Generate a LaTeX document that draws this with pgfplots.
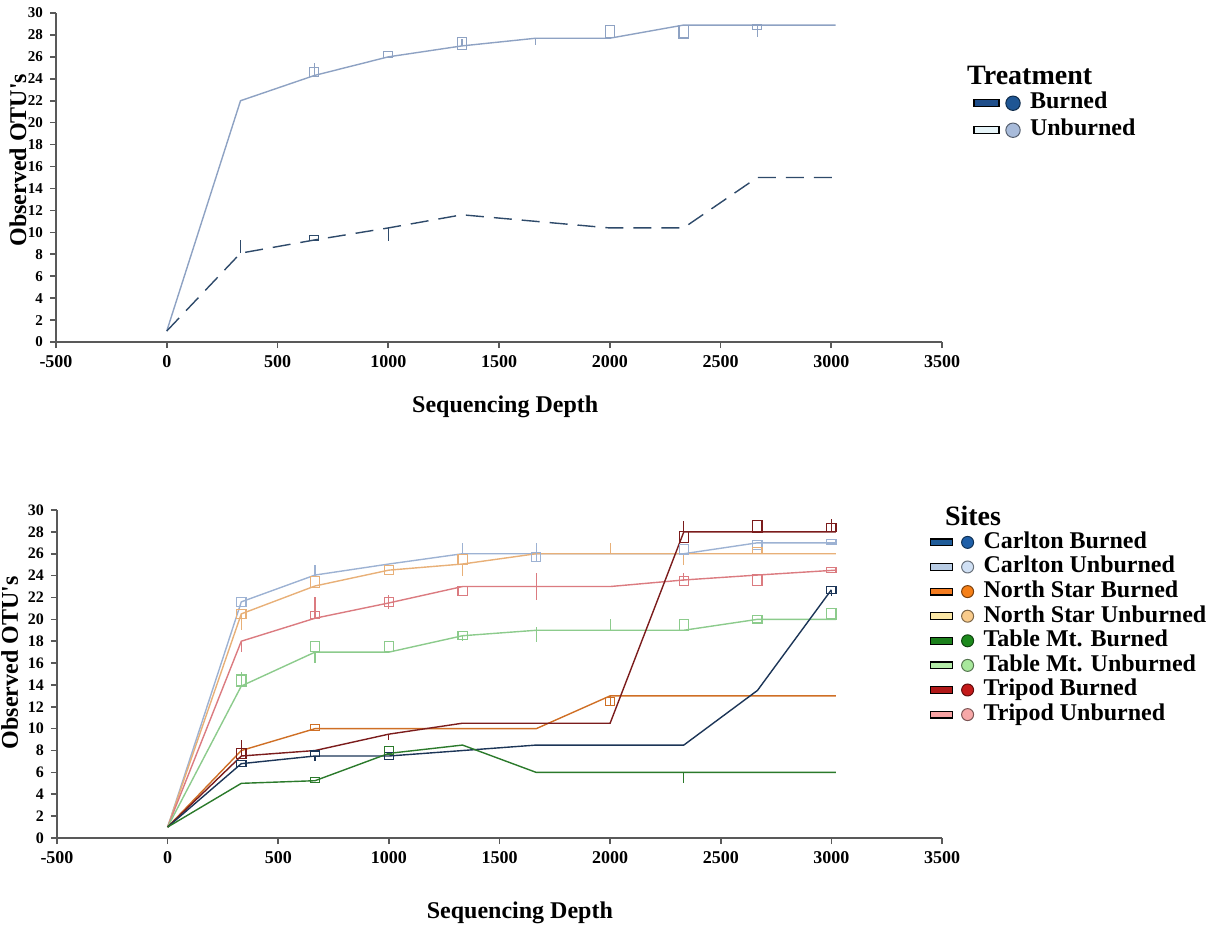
\documentclass[border=0pt]{standalone}
\usepackage{pgfplots}
\pgfplotsset{compat=1.18}
\usepackage{fontspec}
\setmainfont{Liberation Serif}

\definecolor{topB}{HTML}{2E4A6A}
\definecolor{topBbar}{HTML}{1F4E8A}
\definecolor{topBcir}{HTML}{1F5694}
\definecolor{topU}{HTML}{8EA2C3}
\definecolor{topUbar}{HTML}{E6F4F8}
\definecolor{topUcir}{HTML}{A8BBDA}

\definecolor{CBl}{HTML}{1C3557}\definecolor{CBb}{HTML}{1F5C99}\definecolor{CBc}{HTML}{1F5FA8}
\definecolor{CUl}{HTML}{9DB2D3}\definecolor{CUb}{HTML}{B8CCE4}\definecolor{CUc}{HTML}{D0E0F4}
\definecolor{NBl}{HTML}{CF6F25}\definecolor{NBb}{HTML}{F47C20}\definecolor{NBc}{HTML}{F57F17}
\definecolor{NUl}{HTML}{E8B078}\definecolor{NUb}{HTML}{FBE7A6}\definecolor{NUc}{HTML}{F9CB8B}
\definecolor{TBl}{HTML}{2B7A2B}\definecolor{TBb}{HTML}{1B7F1B}\definecolor{TBc}{HTML}{1D8A1D}
\definecolor{TUl}{HTML}{8CCB8C}\definecolor{TUb}{HTML}{B5ECA9}\definecolor{TUc}{HTML}{A8E89C}
\definecolor{PBl}{HTML}{7B1C1C}\definecolor{PBb}{HTML}{B01818}\definecolor{PBc}{HTML}{C41A1A}
\definecolor{PUl}{HTML}{DB7B80}\definecolor{PUb}{HTML}{F7A3A3}\definecolor{PUc}{HTML}{F7A8A8}

\pgfplotsset{
  base/.style={
    scale only axis, width=443pt, height=164.5pt,
    xmin=-500, xmax=3500, ymin=0, ymax=30,
    axis lines=left, axis line style={-, draw=black!65, line width=0.9pt},
    tick align=outside, major tick length=3pt,
    tick style={draw=black!65, line width=0.8pt},
    xtick={-500,0,500,1000,1500,2000,2500,3000,3500},
    xticklabels={-500,0,500,1000,1500,2000,2500,3000,3500},
    ytick={0,2,...,30},
    /pgf/number format/assume math mode=true,
    xticklabel style={font=\bfseries\fontsize{9}{10}\selectfont},
    yticklabel style={font=\bfseries\fontsize{7.5}{8}\selectfont},
    label style={font=\bfseries\fontsize{12}{14}\selectfont},
    clip=false,
    legend cell align=left,
  },
  ln/.style={color=#1, line width=0.7pt, mark=none},
  sq/.style={scatter, only marks, mark=square, mark size=2.3pt, point meta=y,
    scatter/use mapped color={draw=#1, fill=none},
    mark options={line width=0.6pt},
    visualization depends on={\thisrow{h} \as \hh},
    scatter/@pre marker code/.append style={/tikz/yscale=\hh}},
  eb/.style={draw=none, mark=none,
    error bars/y dir=both, error bars/y explicit, error bars/error mark=none,
    error bars/error bar style={line width=0.6pt, draw=#1}},
  limg/.style n args={2}{legend image code/.code={
    \draw[fill=#1, draw=black, line width=0.6pt] (0pt,-1.7pt) rectangle (11pt,1.7pt);
    \draw[fill=#2, draw=#2!50!black, line width=0.5pt] (18.5pt,0pt) circle (3pt);
    \path[draw=none, fill=none] (0pt,0pt) -- (26pt,0pt);}},
  limgT/.style n args={2}{legend image code/.code={
    \draw[fill=#1, draw=black, line width=0.6pt] (0pt,-1.8pt) rectangle (12.5pt,1.8pt);
    \draw[fill=#2, draw=#2!50!black, line width=0.5pt] (19.5pt,0pt) circle (3.6pt);
    \path[draw=none, fill=none] (0pt,0pt) -- (27.5pt,0pt);}},
}

\begin{document}
\begin{tikzpicture}
\useasboundingbox (0,0) rectangle (612.5pt,464pt);

% ---------------- top panel ----------------
\begin{axis}[base, at={(28pt,293pt)}, anchor=south west,
  ylabel={Observed OTU\textquotesingle s}, xlabel={Sequencing Depth},
  ylabel style={at={(axis description cs:-0.043,0.553)}, anchor=center},
  xlabel style={at={(axis description cs:0.507,-0.198)}, anchor=center},
  legend style={at={(axis description cs:1.035,0.768)}, anchor=north west,
    draw=none, fill=none, inner sep=0pt, row sep=0pt,
    font=\bfseries\fontsize{12}{13}\selectfont,
    nodes={inner sep=0.5pt, text height=9pt, text depth=3.5pt}},
]
\addlegendimage{limgT={topBbar}{topBcir}}\addlegendentry{Burned}
\addlegendimage{limgT={topUbar}{topUcir}}\addlegendentry{Unburned}

\addplot[ln=topU, forget plot] coordinates {(0,1)(333,22)(666,24.3)(1000,26)(1333,27)(1666,27.7)(2000,27.7)(2333,28.9)(2666,28.9)(3020,28.9)};
\addplot[ln=topB, dash pattern=on 9pt off 5pt, forget plot] coordinates {(0,1)(333,8.1)(666,9.3)(1000,10.4)(1333,11.6)(2000,10.4)(2333,10.4)(2666,15)(3020,15)};

\addplot[sq=topU, forget plot] table[row sep=\\] {x y h\\ 666 24.6 1\\ 1000 26.2 0.7\\ 1333 27.2 1.3\\ 2000 28.3 1.3\\ 2333 28.3 1.4\\ 2666 28.7 0.5\\};
\addplot[sq=topB, forget plot] table[row sep=\\] {x y h\\ 666 9.5 0.5\\};

\addplot[eb=topU, forget plot] coordinates {(666,24.3) += (0,1.1) -= (0,0) (1333,27) += (0,0.6) -= (0,0) (1666,27.7) += (0,0) -= (0,0.6) (2666,28.9) += (0,0) -= (0,1.1)};
\addplot[eb=topB, forget plot] coordinates {(333,8.1) += (0,1.2) -= (0,0) (1000,10.4) += (0,0) -= (0,1.2)};

\node[anchor=west, inner sep=0pt, font=\bfseries\fontsize{14}{16}\selectfont] at (axis description cs:1.028,0.810) {Treatment};
\end{axis}

% ---------------- bottom panel ----------------
\begin{axis}[base, at={(28.5pt,45pt)}, anchor=south west, height=164pt, width=442.5pt,
  ylabel={Observed OTU\textquotesingle s}, xlabel={Sequencing Depth},
  ylabel style={at={(axis description cs:-0.0535,0.534)}, anchor=center},
  xlabel style={at={(axis description cs:0.523,-0.229)}, anchor=center},
  yticklabel style={font=\bfseries\fontsize{8}{9}\selectfont},
  legend style={at={(axis description cs:0.986,0.940)}, anchor=north west,
    draw=none, fill=none, inner sep=0pt, row sep=0pt,
    font=\bfseries\fontsize{12}{13}\selectfont,
    nodes={inner sep=0.5pt, text height=8.6pt, text depth=2.7pt}},
]
\addlegendimage{limg={CBb}{CBc}}\addlegendentry{Carlton Burned}
\addlegendimage{limg={CUb}{CUc}}\addlegendentry{Carlton Unburned}
\addlegendimage{limg={NBb}{NBc}}\addlegendentry{North Star Burned}
\addlegendimage{limg={NUb}{NUc}}\addlegendentry{North Star Unburned}
\addlegendimage{limg={TBb}{TBc}}\addlegendentry{Table Mt. Burned}
\addlegendimage{limg={TUb}{TUc}}\addlegendentry{Table Mt. Unburned}
\addlegendimage{limg={PBb}{PBc}}\addlegendentry{Tripod Burned}
\addlegendimage{limg={PUb}{PUc}}\addlegendentry{Tripod Unburned}

% lines
\addplot[ln=CUl, forget plot] coordinates {(0,1)(333,21.6)(666,24.05)(1000,25.06)(1333,26)(1666,26)(2000,26)(2333,26)(2666,27)(3020,27)};
\addplot[ln=NUl, forget plot] coordinates {(0,1)(333,20.5)(666,23.05)(1000,24.5)(1333,25.06)(1666,26)(2000,26)(2333,26)(2666,26)(3020,26)};
\addplot[ln=PUl, forget plot] coordinates {(0,1)(333,18)(666,20.1)(1000,21.5)(1333,23)(1666,23)(2000,23)(2333,23.6)(2666,24.05)(3020,24.5)};
\addplot[ln=TUl, forget plot] coordinates {(0,1)(333,13.9)(666,17)(1000,17)(1333,18.5)(1666,19)(2000,19)(2333,19)(2666,20)(3020,20)};
\addplot[ln=NBl, forget plot] coordinates {(0,1)(333,8)(666,10)(1000,10)(1333,10)(1666,10)(2000,13)(2333,13)(2666,13)(3020,13)};
\addplot[ln=PBl, forget plot] coordinates {(0,1)(333,7.5)(666,8)(1000,9.5)(1333,10.5)(1666,10.5)(2000,10.5)(2333,28)(2666,28)(3020,28)};
\addplot[ln=CBl, forget plot] coordinates {(0,1)(333,6.8)(666,7.5)(1000,7.5)(1333,8)(1666,8.5)(2000,8.5)(2333,8.5)(2666,13.5)(3000,22.7)};
\addplot[ln=TBl, forget plot] coordinates {(0,1)(333,5)(666,5.24)(1000,7.74)(1333,8.5)(1666,6)(2000,6)(2333,6)(2666,6)(3020,6)};

% boxes
\addplot[sq=CUl, forget plot] table[row sep=\\] {x y h\\ 333 21.6 1\\ 1666 25.7 1\\ 2333 26.4 1\\ 2666 26.8 1\\ 3000 27.1 0.5\\};
\addplot[sq=NUl, forget plot] table[row sep=\\] {x y h\\ 333 20.5 1\\ 666 23.4 1.2\\ 1000 24.5 1\\ 1333 25.5 1.1\\ 2666 26.3 0.6\\};
\addplot[sq=PUl, forget plot] table[row sep=\\] {x y h\\ 666 20.4 0.8\\ 1000 21.6 1\\ 1333 22.6 1\\ 2333 23.5 1\\ 2666 23.6 1.2\\ 3000 24.5 0.6\\};
\addplot[sq=TUl, forget plot] table[row sep=\\] {x y h\\ 333 14.4 1.2\\ 666 17.5 1.1\\ 1000 17.5 1.1\\ 1333 18.5 0.9\\ 2333 19.5 1.2\\ 2666 20 0.8\\ 3000 20.5 1.1\\};
\addplot[sq=NBl, forget plot] table[row sep=\\] {x y h\\ 666 10.1 0.6\\ 2000 12.5 0.9\\};
\addplot[sq=PBl, forget plot] table[row sep=\\] {x y h\\ 333 7.7 1.1\\ 2333 27.5 1.2\\ 2666 28.5 1.2\\ 3000 28.4 0.9\\};
\addplot[sq=CBl, forget plot] table[row sep=\\] {x y h\\ 333 6.8 0.6\\ 666 7.7 0.6\\ 1000 7.5 0.8\\ 3000 22.7 0.8\\};
\addplot[sq=TBl, forget plot] table[row sep=\\] {x y h\\ 666 5.3 0.5\\ 1000 8 0.9\\};

% whiskers
\addplot[eb=CUl, forget plot] coordinates {(666,24) += (0,1) -= (0,0) (1333,26) += (0,1) -= (0,0) (1666,26) += (0,1) -= (0,0.8)};
\addplot[eb=NUl, forget plot] coordinates {(333,20.5) += (0,0) -= (0,1.5) (1333,25) += (0,0) -= (0,1) (2000,26) += (0,1) -= (0,0) (2333,26) += (0,0) -= (0,1)};
\addplot[eb=PUl, forget plot] coordinates {(333,18) += (0,0) -= (0,1) (666,20) += (0,2) -= (0,0) (1000,21.5) += (0,0.7) -= (0,0.6) (1666,23) += (0,1.2) -= (0,1.2) (2333,23.5) += (0,0.7) -= (0,0)};
\addplot[eb=TUl, forget plot] coordinates {(333,14) += (0,1.2) -= (0,0) (666,17) += (0,0) -= (0,1) (1333,18.5) += (0,0) -= (0,0.5) (1666,19) += (0,0.3) -= (0,1.1) (2000,19) += (0,1) -= (0,0)};
\addplot[eb=PBl, forget plot] coordinates {(333,7.5) += (0,1.5) -= (0,0) (1000,9.5) += (0,0) -= (0,0.5) (2333,28) += (0,1) -= (0,0) (3000,28) += (0,1.2) -= (0,0)};
\addplot[eb=CBl, forget plot] coordinates {(666,7.5) += (0,0) -= (0,0.5) (3000,22.7) += (0,0) -= (0,0.6)};
\addplot[eb=TBl, forget plot] coordinates {(2333,6) += (0,0) -= (0,1)};
\addplot[eb=NBl, forget plot] coordinates {(2000,13) += (0,0) -= (0,0.8)};

\node[anchor=west, inner sep=0pt, font=\bfseries\fontsize{14}{16}\selectfont] at (axis description cs:1.003,0.982) {Sites};
\end{axis}
\end{tikzpicture}
\end{document}
